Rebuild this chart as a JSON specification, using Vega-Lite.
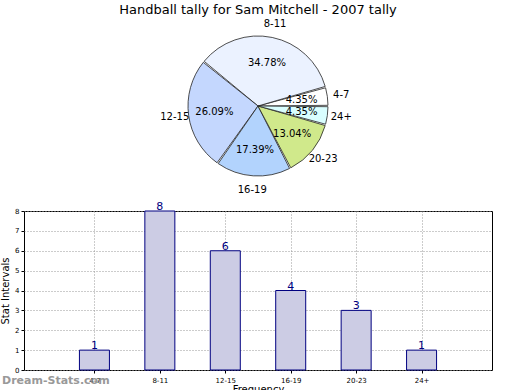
{
  "$schema": "https://vega.github.io/schema/vega-lite/v6.json",
  "padding": {"top": 3, "left": 0, "right": 0, "bottom": 0},
  "background": "white",
  "config": {"font": "DejaVu Sans", "view": {"stroke": null}},
  "datasets": {
    "tally": [
      {"interval": "4-7", "count": 1, "idx": 1, "order": 6, "pct": "4.35%"},
      {"interval": "8-11", "count": 8, "idx": 2, "order": 5, "pct": "34.78%"},
      {"interval": "12-15", "count": 6, "idx": 3, "order": 4, "pct": "26.09%"},
      {"interval": "16-19", "count": 4, "idx": 4, "order": 3, "pct": "17.39%"},
      {"interval": "20-23", "count": 3, "idx": 5, "order": 2, "pct": "13.04%"},
      {"interval": "24+", "count": 1, "idx": 6, "order": 1, "pct": "4.35%"}
    ]
  },
  "spacing": 5,
  "vconcat": [
    {
      "width": 468,
      "height": 156,
      "title": {"text": "Handball tally for Sam Mitchell - 2007 tally", "fontSize": 13, "fontWeight": "normal", "offset": 2, "color": "black"},
      "data": {"name": "tally"},
      "encoding": {
        "theta": {"field": "count", "type": "quantitative", "stack": true, "scale": {"range": [1.5708, 7.854]}},
        "order": {"field": "order", "type": "quantitative"}
      },
      "layer": [
        {
          "mark": {"type": "arc", "outerRadius": 70, "stroke": "#222222", "strokeWidth": 0.8, "padAngle": 0.02},
          "encoding": {
            "color": {"field": "interval", "type": "nominal", "legend": null,
              "scale": {"domain": ["4-7", "8-11", "12-15", "16-19", "20-23", "24+"],
                        "range": ["#ffffff", "#ebf2ff", "#c4d7fe", "#b2d3fd", "#d0e98b", "#d9feff"]}}
          }
        },
        {
          "mark": {"type": "text", "radius": 44, "fontSize": 10, "color": "black"},
          "encoding": {"text": {"field": "pct"}}
        },
        {
          "mark": {"type": "text", "radius": 84, "fontSize": 10, "color": "black"},
          "encoding": {"text": {"field": "interval"}}
        }
      ]
    },
    {
      "width": 468,
      "height": 159,
      "view": {"stroke": "black", "strokeWidth": 1},
      "encoding": {
        "x": {"field": "idx", "type": "quantitative", "scale": {"domain": [0, 7], "nice": false, "zero": false},
          "title": "Frequency",
          "axis": {"values": [1, 2, 3, 4, 5, 6], "labelExpr": "['','4-7','8-11','12-15','16-19','20-23','24+'][datum.value]",
            "labelFontSize": 7, "labelColor": "black", "tickSize": 3, "tickColor": "black", "domain": false,
            "grid": true, "gridDash": [1, 2], "gridColor": "#999999", "titleFontSize": 10, "titleFontWeight": "normal", "titlePadding": 1, "labelPadding": 3}},
        "y": {"field": "count", "type": "quantitative", "scale": {"domain": [0, 8], "nice": false},
          "title": "Stat Intervals",
          "axis": {"values": [0, 1, 2, 3, 4, 5, 6, 7, 8], "labelFontSize": 7, "labelColor": "black", "tickSize": 3, "tickColor": "black", "domain": false,
            "grid": true, "gridDash": [1, 2], "gridColor": "#999999", "titleFontSize": 10, "titleFontWeight": "normal", "titlePadding": 4, "labelPadding": 2, "labelOverlap": false}}
      },
      "layer": [
        {
          "data": {"name": "tally"},
          "mark": {"type": "bar", "size": 30, "fill": "#ccccE4", "stroke": "#000080", "strokeWidth": 1}
        },
        {
          "data": {"name": "tally"},
          "mark": {"type": "text", "baseline": "alphabetic", "dy": -1, "fontSize": 11, "color": "#000080"},
          "encoding": {"text": {"field": "count"}}
        },
        {
          "data": {"values": [{"t": "Dream-Stats.com", "idx": 0.41, "count": -0.55}]},
          "mark": {"type": "text", "fontSize": 11, "fontWeight": "bold", "color": "#888888", "opacity": 0.85, "align": "center", "baseline": "middle", "clip": false},
          "encoding": {"text": {"field": "t"}}
        }
      ]
    }
  ]
}
